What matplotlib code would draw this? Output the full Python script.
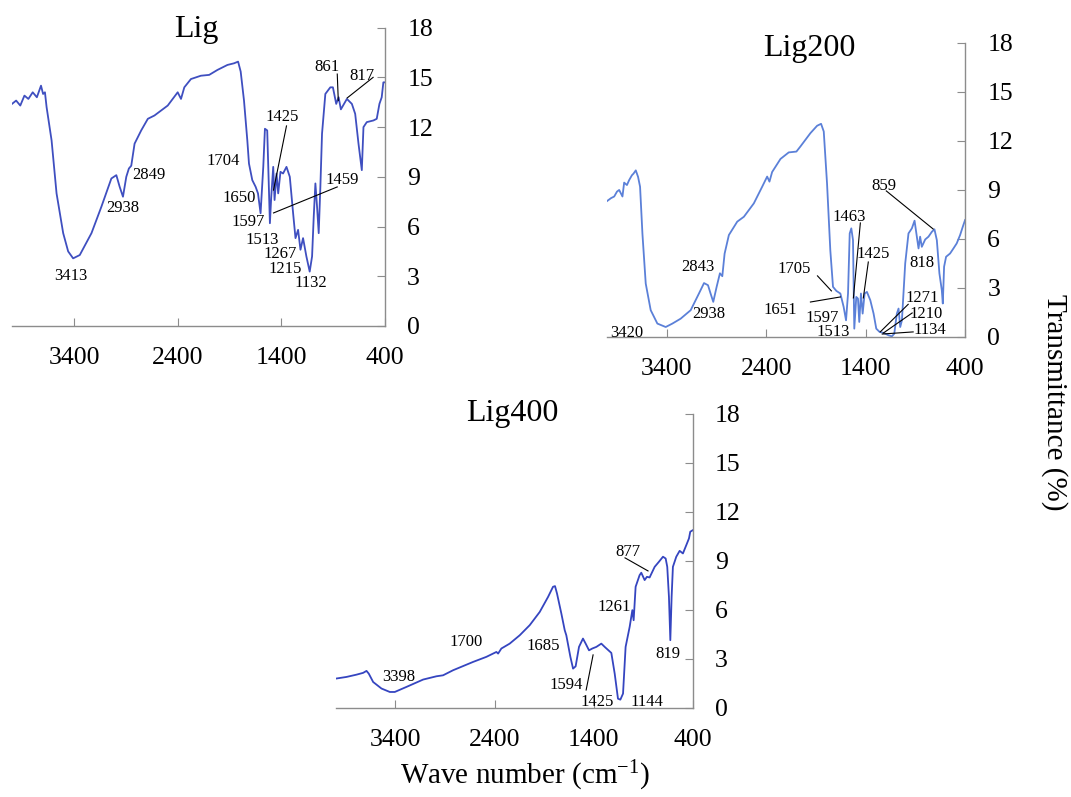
import numpy as np
import matplotlib
matplotlib.use('Agg')
import matplotlib.pyplot as plt

plt.rcParams['font.family'] = ['Liberation Serif', 'DejaVu Serif']
plt.rcParams['mathtext.fontset'] = 'custom'
plt.rcParams['mathtext.rm'] = 'Liberation Serif'

# ---- spectra (wave number cm-1, transmittance %) ----
lig_wn = [4000, 3960, 3920, 3880, 3842, 3800, 3760, 3720, 3700, 3682, 3666, 3618, 3570, 3506,
          3458, 3410, 3346, 3233, 3137, 3041, 2993, 2961, 2929, 2897, 2872, 2849, 2817,
          2753, 2689, 2625, 2497, 2401, 2369, 2337, 2273, 2177, 2097, 2017, 1921, 1857,
          1818, 1793, 1761, 1729, 1713, 1681, 1649, 1626, 1601, 1575, 1559, 1537, 1511,
          1498, 1479, 1466, 1447, 1431, 1409, 1384, 1351, 1319, 1287, 1264, 1239, 1216,
          1191, 1159, 1127, 1104, 1088, 1072, 1056, 1040, 1024, 1008, 976, 928, 903, 871,
          848, 826, 768, 720, 688, 656, 640, 624, 608, 576, 512, 480, 454, 432, 416, 400]
lig_t = [13.4, 13.6, 13.3, 13.9, 13.7, 14.1, 13.8, 14.5, 14.0, 14.1, 13.2, 11.2, 8.0, 5.6,
         4.5, 4.08, 4.28, 5.6, 7.2, 8.9, 9.1, 8.4, 7.8, 9.0, 9.5, 9.67, 11.0,
         11.8, 12.5, 12.7, 13.3, 14.1, 13.7, 14.4, 14.9, 15.1, 15.15, 15.45, 15.75, 15.85,
         15.95, 15.35, 13.6, 11.2, 9.8, 8.8, 8.4, 8.0, 6.8, 9.6, 11.9, 11.8, 6.2,
         7.8, 9.6, 7.6, 9.2, 8.0, 9.3, 9.2, 9.6, 9.0, 6.8, 5.3, 5.8, 4.6,
         5.3, 4.2, 3.28, 4.2, 6.6, 8.6, 7.2, 5.6, 8.4, 11.6, 14.0, 14.4, 14.4, 13.4,
         13.8, 13.07, 13.7, 13.4, 12.8, 11.0, 10.2, 9.4, 12.0, 12.3, 12.4, 12.5, 13.4, 13.8, 14.7, 14.7]

lig200_wn = [4000, 3960, 3928, 3900, 3878, 3845, 3828, 3800, 3778, 3750, 3734, 3711, 3688, 3668,
             3644, 3611, 3561, 3494, 3410, 3343, 3260, 3159, 3076, 3025, 2985, 2959, 2932,
             2898, 2865, 2841, 2818, 2775, 2691, 2624, 2524, 2440, 2390, 2367, 2340, 2256,
             2173, 2096, 2056, 1955, 1888, 1848, 1821, 1788, 1755, 1728, 1694, 1654, 1621,
             1597, 1577, 1560, 1544, 1527, 1514, 1494, 1477, 1464, 1447, 1430, 1410, 1387,
             1353, 1320, 1293, 1260, 1219, 1169, 1136, 1112, 1086, 1069, 1052, 1035, 1002,
             969, 935, 908, 885, 868, 852, 835, 801, 768, 734, 708, 684, 658, 634, 624, 611,
             591, 551, 517, 484, 450, 423, 400]
lig200_t = [8.32, 8.5, 8.6, 8.9, 9.0, 8.6, 9.45, 9.3, 9.6, 9.9, 10.0, 10.2, 9.8, 9.2,
            6.3, 3.27, 1.64, 0.82, 0.61, 0.82, 1.12, 1.64, 2.66, 3.3, 3.17, 2.66, 2.15,
            3.07, 3.9, 3.72, 5.1, 6.24, 7.06, 7.36, 8.18, 9.2, 9.82, 9.51, 10.1, 10.9,
            11.3, 11.35, 11.66, 12.48, 12.93, 13.05, 12.58, 9.4, 5.3, 3.07, 2.82, 2.66, 1.84,
            1.02, 2.66, 6.34, 6.65, 5.93, 0.51, 2.45, 2.35, 0.92, 2.66, 1.43, 2.66, 2.76,
            2.25, 1.43, 0.51, 0.31, 0.25, 0.1, 0.04, 0.2, 1.43, 1.74, 0.61, 1.02, 4.5,
            6.34, 6.65, 7.12, 6.14, 5.42, 6.14, 5.52, 5.97, 6.14, 6.44, 6.59, 5.93, 3.89, 2.86, 2.05, 4.3,
            4.91, 5.11, 5.42, 5.73, 6.24, 6.75, 7.16]

lig400_wn = [4000, 3894, 3793, 3726, 3692, 3669, 3625, 3541, 3457, 3407, 3289, 3121, 2987, 2920,
             2819, 2617, 2483, 2382, 2365, 2332, 2248, 2147, 2046, 1945, 1861, 1811, 1791,
             1771, 1727, 1693, 1677, 1636, 1609, 1583, 1549, 1509, 1482, 1448, 1415, 1374,
             1324, 1290, 1223, 1189, 1156, 1132, 1105, 1079, 1038, 1011, 998, 978, 938, 921,
             887, 864, 837, 786, 743, 702, 675, 659, 642, 628, 615, 602, 568, 534, 501, 467,
             440, 427, 400]
lig400_t = [1.8, 1.9, 2.04, 2.15, 2.27, 2.1, 1.59, 1.19, 0.98, 0.98, 1.29, 1.74, 1.94, 2.0,
            2.31, 2.82, 3.13, 3.43, 3.33, 3.64, 3.94, 4.45, 5.07, 5.88, 6.8, 7.42, 7.46,
            7.01, 5.78, 4.76, 4.45, 3.13, 2.41, 2.55, 3.74, 4.25, 3.94, 3.53, 3.64, 3.74,
            3.94, 3.74, 3.37, 2.1, 0.57, 0.51, 0.88, 3.74, 4.97, 5.99, 5.37, 7.42, 8.13, 8.28,
            7.83, 8.03, 7.99, 8.64, 8.95, 9.26, 9.15, 8.64, 6.8, 4.15, 6.8, 8.64, 9.26, 9.62, 9.46, 9.97,
            10.38, 10.79, 10.89]

# ---- peak labels: (text, label x, label y, leader line or None) ----
lig_labels = [('3413', 3435, 3.0, None), ('2938', 2926, 7.1, None), ('2849', 2677, 9.1, None),
              ('1704', 1966, 9.96, None), ('1650', 1812, 7.7, None), ('1597', 1716, 6.3, None),
              ('1513', 1582, 5.2, None), ('1267', 1409, 4.35, None), ('1215', 1361, 3.45, None),
              ('1132', 1120, 2.6, None),
              ('1425', 1389, 12.6, (1351, 12.07, 1476, 8.2)),
              ('1459', 813, 8.8, (861, 8.39, 1476, 6.82)),
              ('861', 957, 15.6, (861, 15.2, 851, 13.6)),
              ('817', 621, 15.1, (515, 15.0, 765, 13.76))]
lig200_labels = [('3420', 3800, 0.24, None), ('2843', 3088, 4.29, None), ('2938', 2978, 1.41, None),
                 ('1705', 2115, 4.16, (1884, 3.74, 1744, 2.82)),
                 ('1651', 2256, 1.65, (1955, 2.14, 1654, 2.45)),
                 ('1597', 1834, 1.16, None), ('1513', 1724, 0.31, None),
                 ('1463', 1563, 7.35, (1453, 6.98, 1523, 2.39)),
                 ('1425', 1323, 5.08, (1373, 4.59, 1423, 2.39)),
                 ('859', 1212, 9.25, (1192, 8.94, 721, 6.61)),
                 ('818', 831, 4.53, None),
                 ('1271', 831, 2.4, (972, 2.0, 1253, 0.31)),
                 ('1210', 791, 1.42, (932, 1.47, 1222, 0.24)),
                 ('1134', 751, 0.45, (922, 0.31, 1233, 0.18))]
lig400_labels = [('3398', 3371, 1.9, None), ('1700', 2686, 4.04, None), ('1685', 1911, 3.8, None),
                 ('1594', 1679, 1.41, (1477, 1.1, 1407, 3.25)),
                 ('1425', 1367, 0.37, None), ('1144', 863, 0.37, None),
                 ('1261', 1196, 6.18, None),
                 ('877', 1055, 9.55, (1085, 9.19, 853, 8.39)),
                 ('819', 652, 3.31, None)]

xticks = [3400, 2400, 1400, 400]
yticks = [0, 3, 6, 9, 12, 15, 18]

fig = plt.figure(figsize=(10.71, 7.97), dpi=100)


def spectrum(rect, wn, t, labels, title, color, title_xy):
	ax = fig.add_axes(rect)
	ax.plot(wn, t, color=color, lw=1.3)
	ax.set_xlim(4000, 400)
	ax.set_ylim(0, 18)
	ax.set_xticks(xticks)
	ax.set_yticks(yticks)
	ax.yaxis.tick_right()
	for s in ['left', 'top']:
		ax.spines[s].set_visible(False)
	for s in ['right', 'bottom']:
		ax.spines[s].set_color('#8c8c8c')
		ax.spines[s].set_linewidth(1.0)
	ax.tick_params(axis='both', direction='in', length=6, color='#8c8c8c', labelsize=18.5)
	ax.tick_params(axis='x', pad=15)
	ax.tick_params(axis='y', pad=16)
	for txt, x, y, line in labels:
		ax.text(x, y, txt, fontsize=12, ha='center', va='center', clip_on=False)
		if line is not None:
			ax.plot([line[0], line[2]], [line[1], line[3]], color='black', lw=0.8, clip_on=False)
	ax.text(title_xy[0], title_xy[1], title, fontsize=23, ha='center', va='center',
		transform=ax.transAxes)
	return ax


spectrum([0.0112, 0.5910, 0.3483, 0.3743], lig_wn, lig_t, lig_labels, 'Lig', '#3f4fc0', (0.495, 0.995))
spectrum([0.5668, 0.5772, 0.3343, 0.3689], lig200_wn, lig200_t, lig200_labels, 'Lig200', '#5b80d8', (0.565, 0.98))
spectrum([0.3137, 0.1117, 0.3333, 0.3689], lig400_wn, lig400_t, lig400_labels, 'Lig400', '#3545c0', (0.495, 1.0))

fig.text(0.985, 0.495, 'Transmittance (%)', fontsize=21, rotation=-90, ha='center', va='center')
fig.text(0.49, 0.026, r'Wave number (cm$\mathregular{^{-1}}$)', fontsize=21, ha='center', va='center')

fig.savefig('out.png', dpi=100)
